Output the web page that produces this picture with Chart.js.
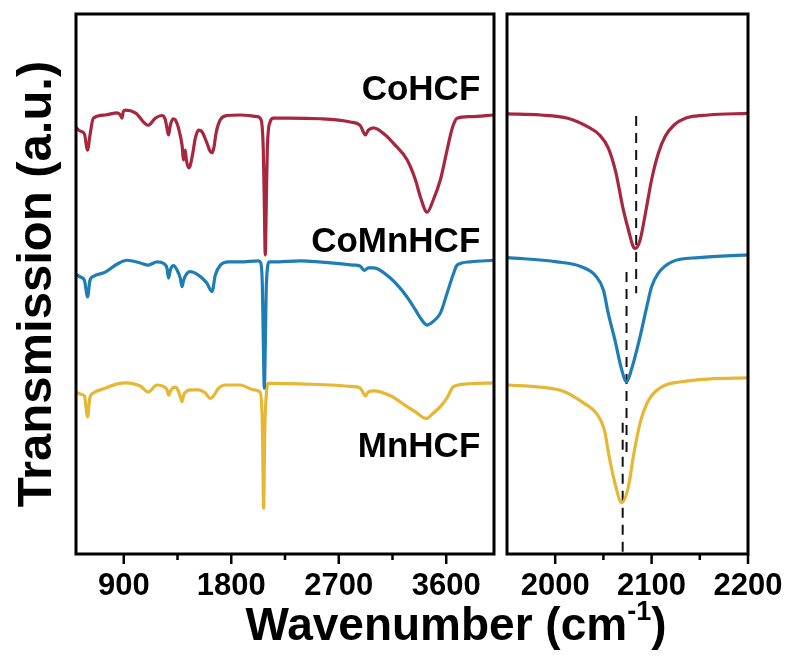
<!DOCTYPE html>
<html>
<head>
<meta charset="utf-8">
<script src="https://cdn.jsdelivr.net/npm/chart.js@4.4.0/dist/chart.umd.min.js"></script>
<style>
body{margin:0;background:#fff;width:792px;height:670px;overflow:hidden;position:relative;font-family:"Liberation Sans",Arial,sans-serif;}
#left{position:absolute;left:0;top:0;}
#right{position:absolute;left:500px;top:0;}
#xtitle{position:absolute;left:156px;width:600px;top:588px;text-align:center;font-weight:bold;font-size:46px;color:#000;line-height:54px;}
#xtitle sup{font-size:27px;position:relative;top:-4px;}
</style>
</head>
<body>
<canvas id="left" width="500" height="670"></canvas>
<canvas id="right" width="292" height="670"></canvas>
<div id="xtitle">Wavenumber (cm<sup>-1</sup>)</div>
<script>
// sample names, top to bottom
const names = ['CoHCF', 'CoMnHCF', 'MnHCF'];
const colors = ['#A6273F', '#1E7DB4', '#E6B735'];

// full range spectra [wavenumber, transmission a.u.]
const coHCF = [[503,78.9],[536,78.3],[570,77.8],[597,74.8],[616,77.4],[645,80.7],[745,81.3],[846,81.7],[871,81.3],[885,80.7],[896,81.9],[913,82.2],[997,81.7],[1105,79.4],[1164,80.7],[1220,81.2],[1248,80.4],[1262,78.8],[1275,77.6],[1290,79.4],[1312,80.6],[1332,80.4],[1359,78.8],[1388,75.7],[1401,73.0],[1415,74.8],[1424,73.0],[1443,71.5],[1457,72.0],[1480,74.5],[1499,77.0],[1527,78.5],[1555,78.2],[1591,76.4],[1625,74.5],[1641,74.3],[1654,75.2],[1675,78.2],[1708,80.4],[1765,81.2],[1876,81.3],[2016,81.0],[2050,80.4],[2068,75],[2076,66],[2085,55.4],[2094,66],[2102,75],[2125,80.0],[2153,80.7],[2267,80.7],[2546,80.6],[2797,80.0],[2881,79.3],[2923,77.6],[2948,78.5],[2990,78.9],[3090,77.6],[3160,76.0],[3272,73.0],[3342,69.3],[3384,66.1],[3440,63.3],[3492,65.6],[3551,69.3],[3607,74.8],[3651,78.9],[3691,80.7],[3802,81.0],[4000,81.3]];
const coMnHCF = [[508,51.7],[536,51.3],[570,50.7],[597,47.6],[616,50.6],[645,51.4],[745,52.2],[846,53.7],[927,54.4],[1038,53.9],[1105,53.5],[1178,54.1],[1234,53.8],[1262,52.9],[1275,51.1],[1290,52.6],[1317,53.4],[1346,52.6],[1373,51.1],[1388,49.5],[1401,50.7],[1430,52.0],[1457,52.3],[1499,52.0],[1555,51.1],[1597,50.1],[1625,48.9],[1639,48.6],[1667,51.7],[1709,53.5],[1778,54.1],[1876,54.1],[2027,54.3],[2045,54.0],[2060,50],[2068,40],[2077,30.7],[2086,40],[2094,50],[2120,54.1],[2152,54.1],[2378,54.3],[2822,53.5],[2881,53.3],[2914,52.5],[2948,53.0],[2992,53.0],[3132,51.1],[3272,47.6],[3342,45.2],[3384,43.7],[3440,42.4],[3492,43.1],[3551,44.6],[3607,48.3],[3662,52.0],[3691,53.5],[3802,54.1],[4000,54.4]];
const mnHCF = [[508,29.9],[536,29.6],[570,29.3],[597,25.4],[616,28.9],[645,29.8],[745,30.7],[846,31.5],[913,31.7],[1038,31.1],[1105,30.0],[1178,31.3],[1234,31.0],[1262,30.4],[1275,29.4],[1296,30.4],[1332,30.9],[1359,30.1],[1388,28.2],[1401,29.4],[1430,30.2],[1471,30.4],[1527,30.4],[1583,29.8],[1625,28.8],[1652,29.3],[1694,30.7],[1750,31.3],[1876,31.3],[1985,30.4],[2040,30.0],[2055,27.5],[2062,22],[2066,15],[2071,8.5],[2076,15],[2080,22],[2088,27.5],[2110,31.6],[2127,31.6],[2378,31.5],[2822,31.0],[2881,30.7],[2923,29.3],[2948,30.0],[2992,30.2],[3132,29.3],[3272,27.3],[3342,26.3],[3431,25.1],[3492,26.1],[3551,27.3],[3607,28.9],[3660,31.0],[3775,31.5],[4000,31.7]];

// C≡N stretch region
const coHCF_cn = [[1950,81.5],[1985,81.3],[2013,80.7],[2034,79.1],[2046,77.6],[2055,75.2],[2063,70.6],[2070,64.3],[2076,60.0],[2081,56.9],[2083,56.6],[2088,58.1],[2093,62.5],[2100,69.3],[2107,74.2],[2114,77.3],[2123,79.4],[2135,80.7],[2159,81.3],[2200,81.6]];
const coMnHCF_cn = [[1950,54.9],[2002,54.1],[2027,53.2],[2042,51.5],[2050,48.9],[2055,44.6],[2062,39.6],[2069,34.1],[2074,31.9],[2079,34.1],[2088,40.2],[2095,45.8],[2100,49.5],[2107,52.0],[2121,54.1],[2149,54.9],[2200,55.4]];
const mnHCF_cn = [[1950,31.3],[1985,30.9],[2009,30.1],[2030,27.9],[2043,26.0],[2051,23.0],[2056,18.0],[2062,13.1],[2069,9.5],[2076,12.5],[2081,18.0],[2088,24.2],[2097,28.5],[2111,31.0],[2131,31.9],[2159,32.4],[2200,32.6]];

// peak position markers [wavenumber, from, to]
const peakMarks = [[2084,81.1,48.3],[2074,52.2,18.3],[2070,24.3,0]];

// axis ticks
const leftMajor = [900, 1800, 2700, 3600];
const leftMinor = [1350, 2250, 3150];
const rightMajor = [2000, 2100, 2200];
const rightMinor = [2050, 2150];

const FONT = '"Liberation Sans", Arial, sans-serif';

function toXY(arr){ return arr.map(p => ({x: p[0], y: p[1]})); }

function lineSet(arr, color){
  return {data: toXY(arr), borderColor: color, borderWidth: 3.2, pointRadius: 0,
    cubicInterpolationMode: 'monotone', borderJoinStyle: 'round', borderCapStyle: 'round', fill: false};
}

const framePlugin = {
  id: 'frame',
  afterDatasetsDraw(chart, args, opts){
    const {ctx, chartArea: a, scales: {x}} = chart;
    ctx.save();
    ctx.strokeStyle = '#000';
    ctx.lineWidth = 3;
    ctx.strokeRect(a.left, a.top, a.right - a.left, a.bottom - a.top);
    ctx.lineWidth = 2.5;
    ctx.beginPath();
    opts.major.forEach(v => { const px = x.getPixelForValue(v); ctx.moveTo(px, a.bottom); ctx.lineTo(px, a.bottom + 10); });
    opts.minor.forEach(v => { const px = x.getPixelForValue(v); ctx.moveTo(px, a.bottom); ctx.lineTo(px, a.bottom + 6); });
    ctx.stroke();
    if (opts.labels) {
      ctx.fillStyle = '#000';
      ctx.font = 'bold 35px ' + FONT;
      ctx.textAlign = 'right';
      ctx.textBaseline = 'alphabetic';
      opts.labels.forEach(l => ctx.fillText(l.text, x.getPixelForValue(l.x), chart.scales.y.getPixelForValue(l.y)));
    }
    ctx.restore();
  }
};

const tickFont = {family: FONT, size: 31, weight: 'bold'};

function fixX(s){ s.height = 116; s.paddingLeft = 0; s.paddingRight = 0; }

new Chart(document.getElementById('left'), {
  type: 'line',
  data: {datasets: [lineSet(coHCF, colors[0]), lineSet(coMnHCF, colors[1]), lineSet(mnHCF, colors[2])]},
  options: {
    responsive: false, animation: false,
    layout: {padding: {top: 14, right: 6, left: 0, bottom: 0}},
    plugins: {
      legend: {display: false}, tooltip: {enabled: false},
      frame: {major: leftMajor, minor: leftMinor, labels: [
        {text: names[0], x: 3885, y: 84.1},
        {text: names[1], x: 3885, y: 56.0},
        {text: names[2], x: 3885, y: 18.0}]}
    },
    scales: {
      x: {type: 'linear', min: 500, max: 4000,
        grid: {display: false, drawTicks: false}, border: {display: false},
        afterBuildTicks: s => { s.ticks = leftMajor.map(v => ({value: v})); },
        afterFit: fixX,
        ticks: {font: tickFont, color: '#000', padding: 14, maxRotation: 0, autoSkip: false,
          callback: v => String(v)}},
      y: {min: 0, max: 100, grid: {display: false}, border: {display: false},
        ticks: {display: false},
        afterFit: s => { s.width = 76; },
        title: {display: true, text: 'Transmission (a.u.)', color: '#000',
          font: {family: FONT, size: 49, weight: 'bold'}, padding: {top: 8, bottom: 0}}}
    }
  },
  plugins: [framePlugin]
});

const markSets = peakMarks.map(m => ({data: [{x: m[0], y: m[1]}, {x: m[0], y: m[2]}],
  borderColor: '#111', borderWidth: 2, borderDash: [10, 7], pointRadius: 0, fill: false}));

new Chart(document.getElementById('right'), {
  type: 'line',
  data: {datasets: [lineSet(coHCF_cn, colors[0]), lineSet(coMnHCF_cn, colors[1]), lineSet(mnHCF_cn, colors[2])].concat(markSets)},
  options: {
    responsive: false, animation: false,
    layout: {padding: {top: 14, right: 44, left: 7, bottom: 0}},
    plugins: {legend: {display: false}, tooltip: {enabled: false},
      frame: {major: rightMajor, minor: rightMinor}},
    scales: {
      x: {type: 'linear', min: 1950, max: 2200,
        grid: {display: false, drawTicks: false}, border: {display: false},
        afterBuildTicks: s => { s.ticks = rightMajor.map(v => ({value: v})); },
        afterFit: fixX,
        ticks: {font: tickFont, color: '#000', padding: 14, maxRotation: 0, autoSkip: false,
          callback: v => String(v)}},
      y: {display: false, min: 0, max: 100}
    }
  },
  plugins: [framePlugin]
});
</script>
</body>
</html>
